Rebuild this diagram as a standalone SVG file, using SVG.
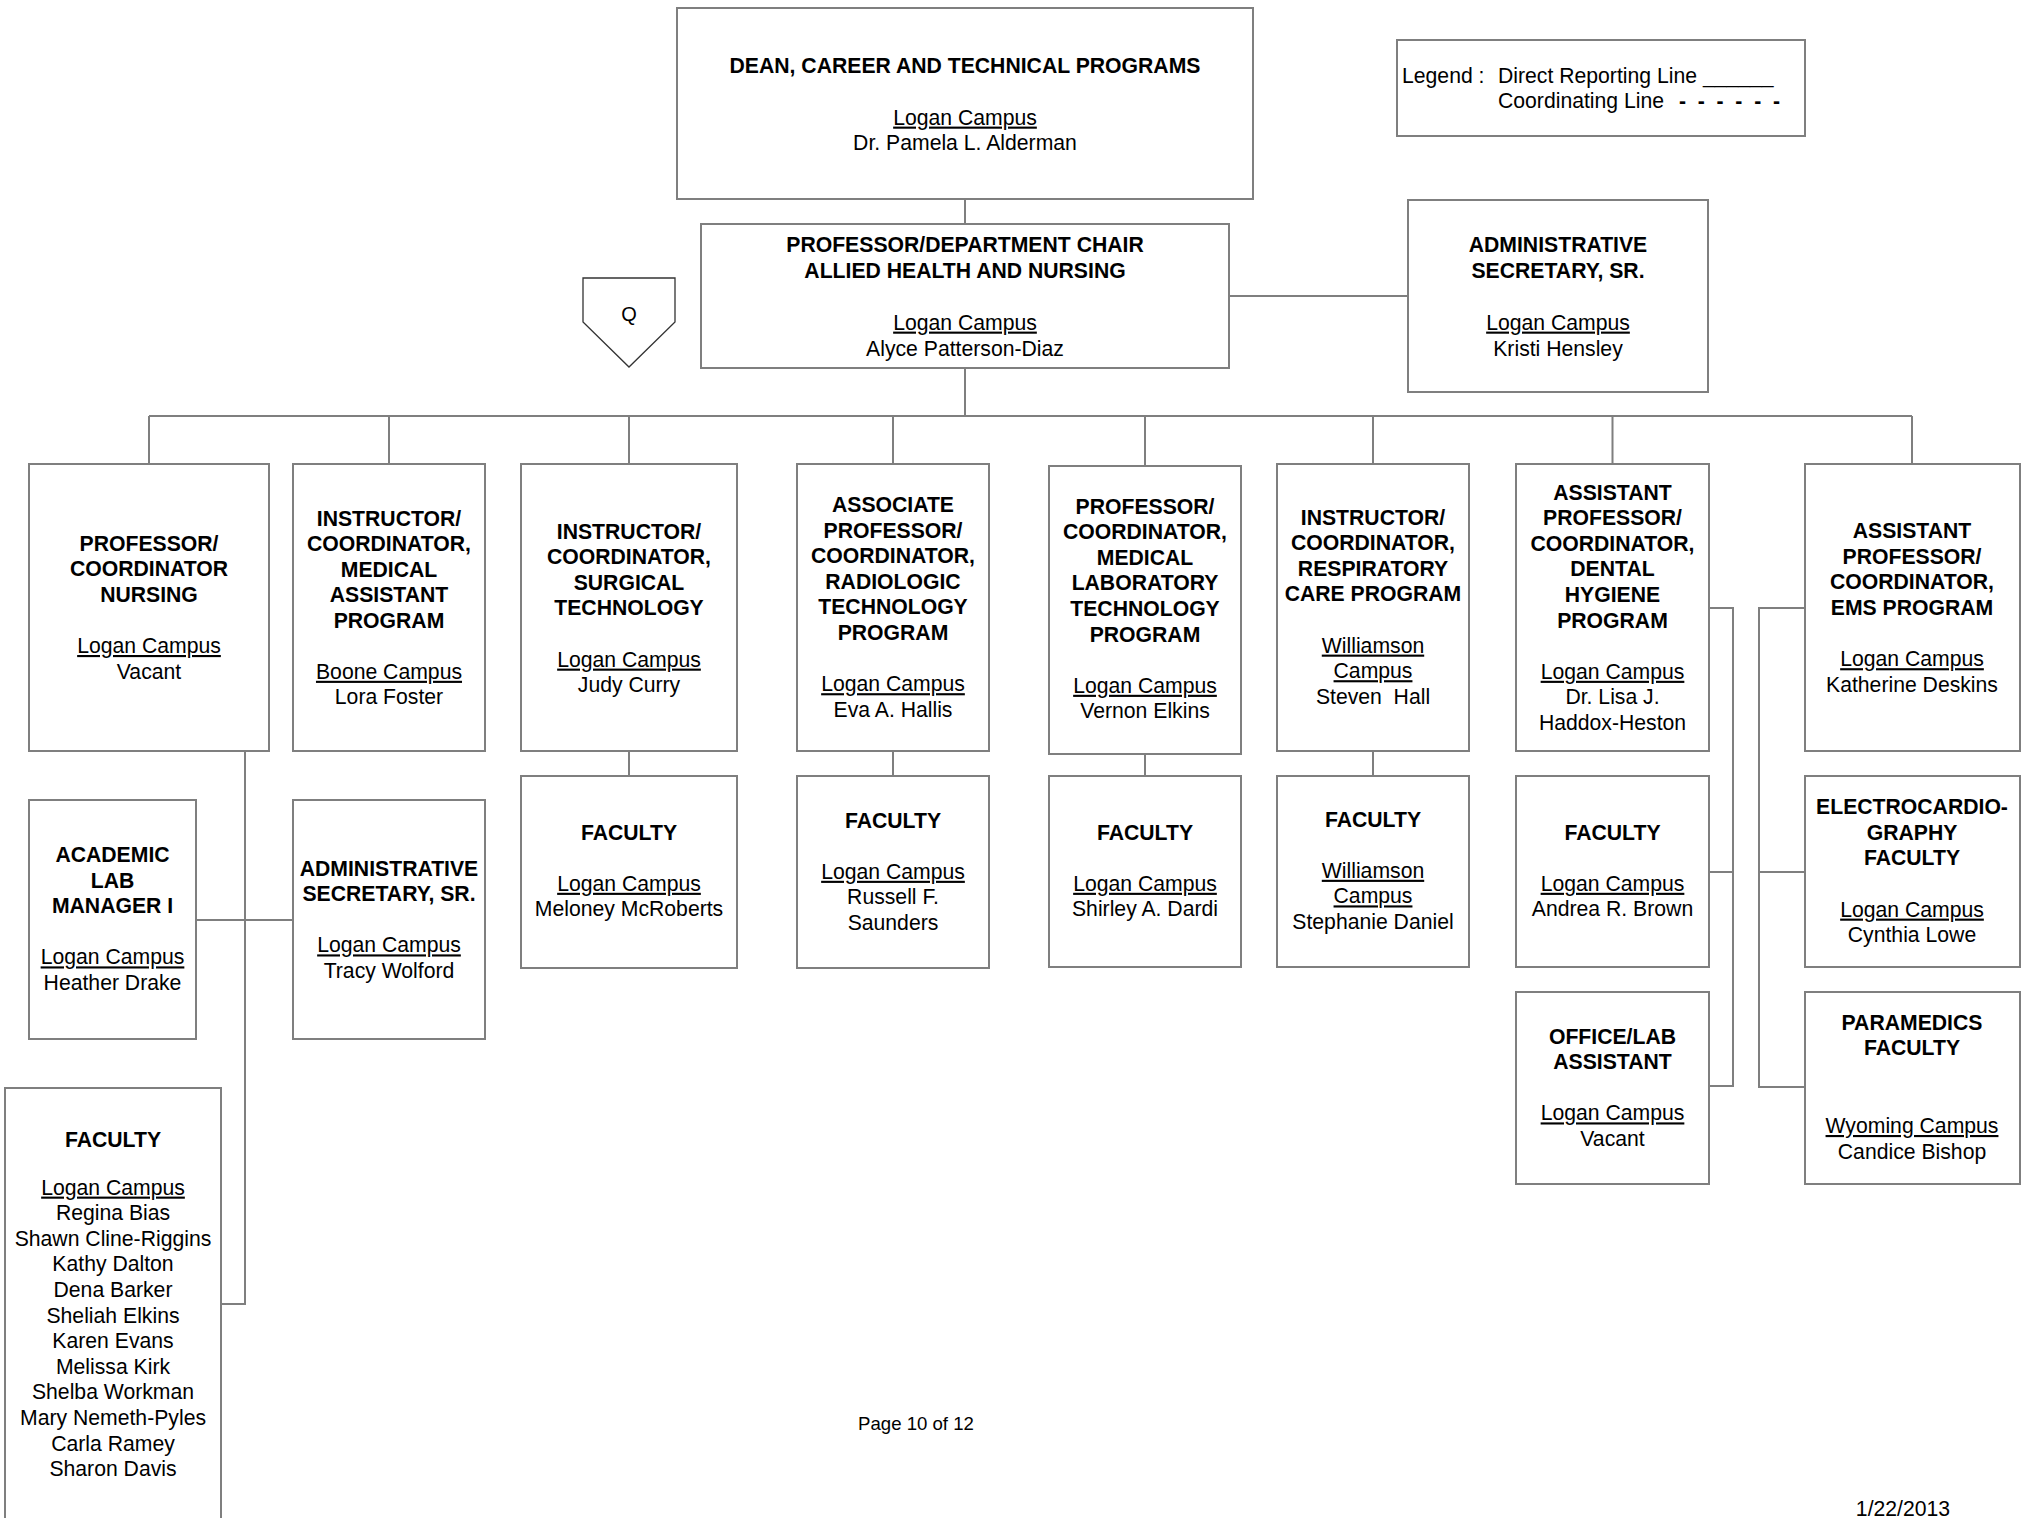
<svg xmlns="http://www.w3.org/2000/svg" width="2025" height="1518" viewBox="0 0 2025 1518">
<style>
text{font-family:"Liberation Sans",Arial,sans-serif;font-size:21.2px;fill:#000;text-anchor:middle}
.b{font-weight:bold}
.u{text-decoration:underline}
.l{text-anchor:start}
rect.n{fill:#fff;stroke:#7f7f7f;stroke-width:2}
#connectors path{fill:none;stroke:#7f7f7f;stroke-width:2}
</style>
<rect width="2025" height="1518" fill="#fff"/>
<g id="connectors">
<path d="M965,199V224"/>
<path d="M1229,296H1408"/>
<path d="M965,368V416"/>
<path d="M149,416H1912"/>
<path d="M149,416V464M389,416V464M629,416V464M893,416V464M1145,416V466M1373,416V464M1612.5,416V464M1912,416V464"/>
<path d="M629,751V776M893,751V776M1145,754V776M1373,751V776"/>
<path d="M245,751V1304H221M196,920H293"/>
<path d="M1709,608H1733V1086H1709M1709,872H1733"/>
<path d="M1805,608H1759V1087H1805M1759,872H1805"/>
</g>
<g id="dean"><rect class="n" x="677" y="8" width="576" height="191"/>
<text class="b" x="965" y="72.6">DEAN, CAREER AND TECHNICAL PROGRAMS</text>
<text class="u" x="965" y="124.6">Logan Campus</text>
<text x="965" y="150">Dr. Pamela L. Alderman</text></g>
<g id="legend"><rect class="n" x="1397" y="40" width="408" height="96"/>
<text class="l" x="1402" y="82.6">Legend :</text>
<text class="l" x="1498" y="82.6">Direct Reporting Line ______</text>
<text class="l" x="1498" y="107.6">Coordinating Line</text>
<text class="l b" x="1679" y="107.6" textLength="101" lengthAdjust="spacing">- - - - - -</text></g>
<g id="chair"><rect class="n" x="701" y="224" width="528" height="144"/>
<text class="b" x="965" y="251.6">PROFESSOR/DEPARTMENT CHAIR</text>
<text class="b" x="965" y="277.6">ALLIED HEALTH AND NURSING</text>
<text class="u" x="965" y="329.6">Logan Campus</text>
<text x="965" y="355.6">Alyce Patterson-Diaz</text></g>
<g id="admin-top"><rect class="n" x="1408" y="200" width="300" height="192"/>
<text class="b" x="1558" y="251.6">ADMINISTRATIVE</text>
<text class="b" x="1558" y="277.6">SECRETARY, SR.</text>
<text class="u" x="1558" y="329.6">Logan Campus</text>
<text x="1558" y="355.6">Kristi Hensley</text></g>
<g id="q"><path d="M583,278H675V322L629,367L583,322Z" fill="#fff" stroke="#333" stroke-width="1.3"/>
<text x="629" y="320.6" style="font-size:20px">Q</text></g>
<g id="nursing"><rect class="n" x="29" y="464" width="240" height="287"/>
<text class="b" x="149" y="550.6">PROFESSOR/</text>
<text class="b" x="149" y="576.2">COORDINATOR</text>
<text class="b" x="149" y="601.8">NURSING</text>
<text class="u" x="149" y="653">Logan Campus</text>
<text x="149" y="678.6">Vacant</text></g>
<g id="medasst"><rect class="n" x="293" y="464" width="192" height="287"/>
<text class="b" x="389" y="525.6">INSTRUCTOR/</text>
<text class="b" x="389" y="551.2">COORDINATOR,</text>
<text class="b" x="389" y="576.8">MEDICAL</text>
<text class="b" x="389" y="602.4">ASSISTANT</text>
<text class="b" x="389" y="628">PROGRAM</text>
<text class="u" x="389" y="678.8">Boone Campus</text>
<text x="389" y="704.4">Lora Foster</text></g>
<g id="surgical"><rect class="n" x="521" y="464" width="216" height="287"/>
<text class="b" x="629" y="538.6">INSTRUCTOR/</text>
<text class="b" x="629" y="564.2">COORDINATOR,</text>
<text class="b" x="629" y="589.8">SURGICAL</text>
<text class="b" x="629" y="615.4">TECHNOLOGY</text>
<text class="u" x="629" y="666.6">Logan Campus</text>
<text x="629" y="692.2">Judy Curry</text></g>
<g id="radiologic"><rect class="n" x="797" y="464" width="192" height="287"/>
<text class="b" x="893" y="512">ASSOCIATE</text>
<text class="b" x="893" y="537.6">PROFESSOR/</text>
<text class="b" x="893" y="563.2">COORDINATOR,</text>
<text class="b" x="893" y="588.8">RADIOLOGIC</text>
<text class="b" x="893" y="614.4">TECHNOLOGY</text>
<text class="b" x="893" y="640">PROGRAM</text>
<text class="u" x="893" y="691.2">Logan Campus</text>
<text x="893" y="716.8">Eva A. Hallis</text></g>
<g id="mlt"><rect class="n" x="1049" y="466" width="192" height="288"/>
<text class="b" x="1145" y="513.6">PROFESSOR/</text>
<text class="b" x="1145" y="539.2">COORDINATOR,</text>
<text class="b" x="1145" y="564.8">MEDICAL</text>
<text class="b" x="1145" y="590.4">LABORATORY</text>
<text class="b" x="1145" y="616">TECHNOLOGY</text>
<text class="b" x="1145" y="641.6">PROGRAM</text>
<text class="u" x="1145" y="692.8">Logan Campus</text>
<text x="1145" y="718.4">Vernon Elkins</text></g>
<g id="resp"><rect class="n" x="1277" y="464" width="192" height="287"/>
<text class="b" x="1373" y="524.6">INSTRUCTOR/</text>
<text class="b" x="1373" y="550.2">COORDINATOR,</text>
<text class="b" x="1373" y="575.8">RESPIRATORY</text>
<text class="b" x="1373" y="601.4">CARE PROGRAM</text>
<text class="u" x="1373" y="652.6">Williamson</text>
<text class="u" x="1373" y="678.2">Campus</text>
<text x="1373" y="703.8" xml:space="preserve">Steven  Hall</text></g>
<g id="dental"><rect class="n" x="1516" y="464" width="193" height="287"/>
<text class="b" x="1612.5" y="499.6">ASSISTANT</text>
<text class="b" x="1612.5" y="525.2">PROFESSOR/</text>
<text class="b" x="1612.5" y="550.8">COORDINATOR,</text>
<text class="b" x="1612.5" y="576.4">DENTAL</text>
<text class="b" x="1612.5" y="602">HYGIENE</text>
<text class="b" x="1612.5" y="627.6">PROGRAM</text>
<text class="u" x="1612.5" y="678.8">Logan Campus</text>
<text x="1612.5" y="704.4">Dr. Lisa J.</text>
<text x="1612.5" y="730">Haddox-Heston</text></g>
<g id="ems"><rect class="n" x="1805" y="464" width="215" height="287"/>
<text class="b" x="1912" y="538.2">ASSISTANT</text>
<text class="b" x="1912" y="563.8">PROFESSOR/</text>
<text class="b" x="1912" y="589.4">COORDINATOR,</text>
<text class="b" x="1912" y="615">EMS PROGRAM</text>
<text class="u" x="1912" y="666.2">Logan Campus</text>
<text x="1912" y="691.8">Katherine Deskins</text></g>
<g id="surgical-faculty"><rect class="n" x="521" y="776" width="216" height="192"/>
<text class="b" x="629" y="839.6">FACULTY</text>
<text class="u" x="629" y="890.8">Logan Campus</text>
<text x="629" y="916.4">Meloney McRoberts</text></g>
<g id="radiologic-faculty"><rect class="n" x="797" y="776" width="192" height="192"/>
<text class="b" x="893" y="827.6">FACULTY</text>
<text class="u" x="893" y="878.8">Logan Campus</text>
<text x="893" y="904.4">Russell F.</text>
<text x="893" y="930">Saunders</text></g>
<g id="mlt-faculty"><rect class="n" x="1049" y="776" width="192" height="191"/>
<text class="b" x="1145" y="839.6">FACULTY</text>
<text class="u" x="1145" y="890.8">Logan Campus</text>
<text x="1145" y="916.4">Shirley A. Dardi</text></g>
<g id="resp-faculty"><rect class="n" x="1277" y="776" width="192" height="191"/>
<text class="b" x="1373" y="826.6">FACULTY</text>
<text class="u" x="1373" y="877.8">Williamson</text>
<text class="u" x="1373" y="903.4">Campus</text>
<text x="1373" y="929">Stephanie Daniel</text></g>
<g id="dental-faculty"><rect class="n" x="1516" y="776" width="193" height="191"/>
<text class="b" x="1612.5" y="839.6">FACULTY</text>
<text class="u" x="1612.5" y="890.8">Logan Campus</text>
<text x="1612.5" y="916.4">Andrea R. Brown</text></g>
<g id="ecg-faculty"><rect class="n" x="1805" y="776" width="215" height="191"/>
<text class="b" x="1912" y="814.2">ELECTROCARDIO-</text>
<text class="b" x="1912" y="839.8">GRAPHY</text>
<text class="b" x="1912" y="865.4">FACULTY</text>
<text class="u" x="1912" y="916.6">Logan Campus</text>
<text x="1912" y="942.2">Cynthia Lowe</text></g>
<g id="office-lab"><rect class="n" x="1516" y="992" width="193" height="192"/>
<text class="b" x="1612.5" y="1043.6">OFFICE/LAB</text>
<text class="b" x="1612.5" y="1069.2">ASSISTANT</text>
<text class="u" x="1612.5" y="1120.4">Logan Campus</text>
<text x="1612.5" y="1146">Vacant</text></g>
<g id="paramedics"><rect class="n" x="1805" y="992" width="215" height="192"/>
<text class="b" x="1912" y="1029.6">PARAMEDICS</text>
<text class="b" x="1912" y="1055.2">FACULTY</text>
<text class="u" x="1912" y="1133">Wyoming Campus</text>
<text x="1912" y="1158.6">Candice Bishop</text></g>
<g id="lab-manager"><rect class="n" x="29" y="800" width="167" height="239"/>
<text class="b" x="112.5" y="862">ACADEMIC</text>
<text class="b" x="112.5" y="887.6">LAB</text>
<text class="b" x="112.5" y="913.2">MANAGER I</text>
<text class="u" x="112.5" y="964.4">Logan Campus</text>
<text x="112.5" y="990">Heather Drake</text></g>
<g id="admin-nursing"><rect class="n" x="293" y="800" width="192" height="239"/>
<text class="b" x="389" y="875.6">ADMINISTRATIVE</text>
<text class="b" x="389" y="901.2">SECRETARY, SR.</text>
<text class="u" x="389" y="952.4">Logan Campus</text>
<text x="389" y="978">Tracy Wolford</text></g>
<g id="nursing-faculty"><rect class="n" x="5" y="1088" width="216" height="460"/>
<text class="b" x="113" y="1146.6">FACULTY</text>
<text class="u" x="113" y="1194.6">Logan Campus</text>
<text x="113" y="1220.2">Regina Bias</text>
<text x="113" y="1245.8">Shawn Cline-Riggins</text>
<text x="113" y="1271.4">Kathy Dalton</text>
<text x="113" y="1297">Dena Barker</text>
<text x="113" y="1322.6">Sheliah Elkins</text>
<text x="113" y="1348.2">Karen Evans</text>
<text x="113" y="1373.8">Melissa Kirk</text>
<text x="113" y="1399.4">Shelba Workman</text>
<text x="113" y="1425">Mary Nemeth-Pyles</text>
<text x="113" y="1450.6">Carla Ramey</text>
<text x="113" y="1476.2">Sharon Davis</text></g>
<text x="916" y="1430" style="font-size:18.6px">Page 10 of 12</text>
<text x="1903" y="1515.5">1/22/2013</text>
</svg>
